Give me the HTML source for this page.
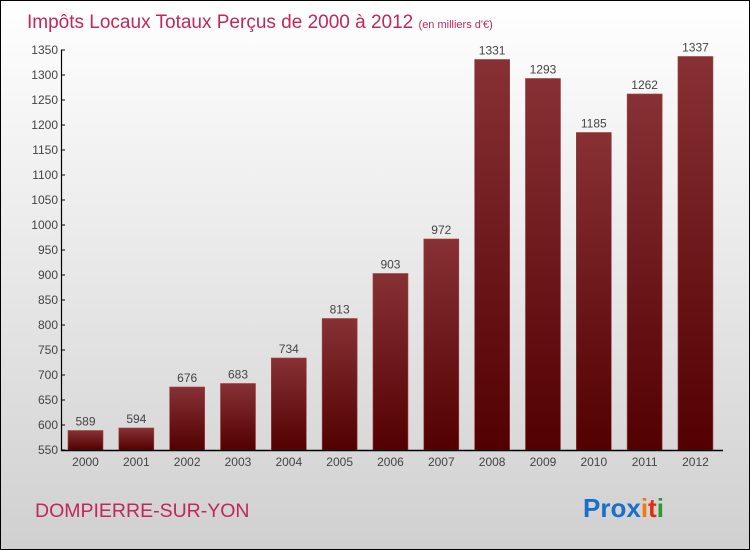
<!DOCTYPE html>
<html><head><meta charset="utf-8"><style>
body{margin:0}
#c{width:750px;height:550px;position:relative;box-sizing:border-box;border:1px solid #000;background:linear-gradient(#ffffff,#d0d0d0);font-family:"Liberation Sans",sans-serif;overflow:hidden}
</style></head><body>
<div id="c">
<svg id="s" width="748" height="548" style="position:absolute;left:0;top:0">
<defs><linearGradient id="g" x1="0" y1="0" x2="0" y2="1"><stop offset="0" stop-color="#873135"/><stop offset="1" stop-color="#530000"/></linearGradient></defs>
<text x="26" y="27" font-size="19" fill="#c0285a">Impôts Locaux Totaux Perçus de 2000 à 2012 <tspan font-size="11">(en milliers d'€)</tspan></text>
<text x="34" y="516" font-size="19.5" fill="#c0285a">DOMPIERRE-SUR-YON</text>
<text x="582" y="516" font-size="26" font-weight="bold"><tspan fill="#1a6fc9">Pro</tspan><tspan fill="#1a6fc9">x</tspan><tspan fill="#f07a10">i</tspan><tspan fill="#e03010">t</tspan><tspan fill="#2a9a30">i</tspan></text>
<g id="plot"></g>
</svg>
</div>
<script>
const categories=["2000","2001","2002","2003","2004","2005","2006","2007","2008","2009","2010","2011","2012"];
const values=[589,594,676,683,734,813,903,972,1331,1293,1185,1262,1337];
const yTicks=[550,600,650,700,750,800,850,900,950,1000,1050,1100,1150,1200,1250,1300,1350];
const NS="http://www.w3.org/2000/svg";
const g=document.getElementById('plot');
const y=v=>449-(v-550)*0.5;
const x=i=>84.5+i*50.83;
function mk(t,a){const e=document.createElementNS(NS,t);for(const k in a)e.setAttribute(k,a[k]);g.appendChild(e);return e;}
yTicks.forEach(v=>{
 const t=mk('text',{x:57,y:y(v)+4,'font-size':12,fill:'#444','text-anchor':'end'});t.textContent=v;
 
 
 const l=mk('line',{x1:60,x2:64,y1:y(v),y2:y(v),stroke:'#000'});
 
 
});
values.forEach((v,i)=>{
 const r=mk('rect',{x:x(i)-17.5,y:y(v),width:35,height:y(550)-y(v),fill:'url(#g)',stroke:'#a04040','stroke-width':0.6});
 
 
 const t=mk('text',{x:x(i),y:y(v)-5,'font-size':12,fill:'#444','text-anchor':'middle'});t.textContent=v;
 
 
 const c=mk('text',{x:x(i),y:465,'font-size':12,fill:'#444','text-anchor':'middle'});c.textContent=categories[i];
 
 
});
const ya=mk('line',{x1:60.5,x2:60.5,y1:y(1350),y2:450,stroke:'#000','stroke-width':1.2});


const xa=mk('line',{x1:60,x2:722,y1:449.5,y2:449.5,stroke:'#000','stroke-width':1.5});


</script>
</body></html>
